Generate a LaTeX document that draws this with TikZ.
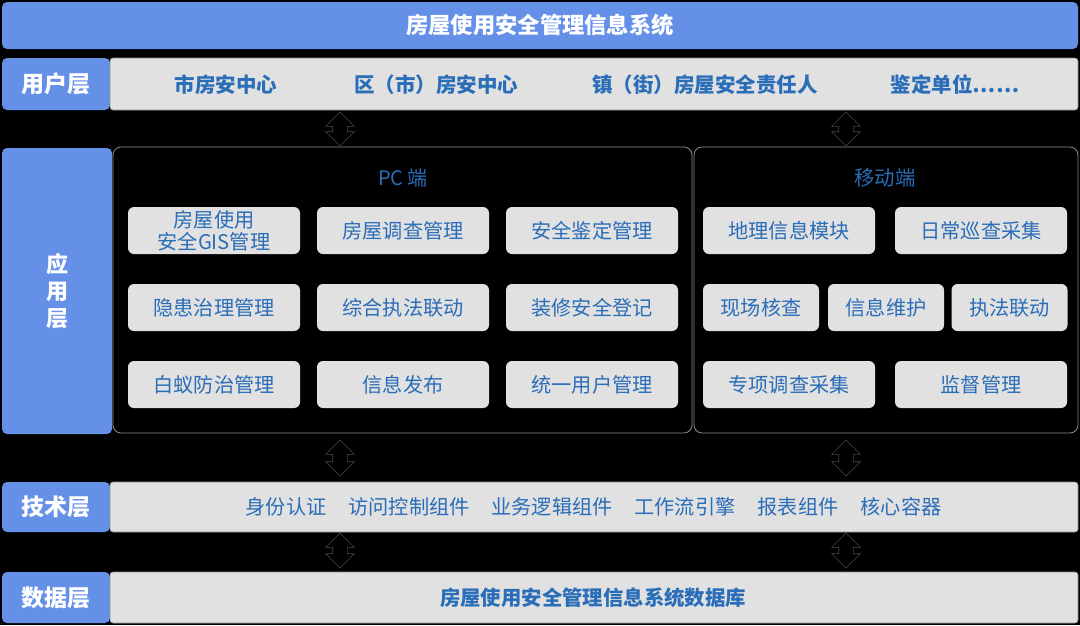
\documentclass[tikz,border=0pt]{standalone}
\usepackage{fontspec}
\setmainfont{Noto Sans CJK SC}
\usetikzlibrary{shapes.arrows}
\definecolor{layerblue}{HTML}{6590E8}
\definecolor{barfill}{HTML}{E1E1E1}
\definecolor{txtblue}{HTML}{2A6DB8}
\definecolor{edgegray}{HTML}{8C8C8C}
\begin{document}
\begin{tikzpicture}[x=1pt,y=-1pt,
    layer/.style={fill=layerblue,rounded corners=5pt,text=white,font=\fontsize{23}{28}\selectfont\bfseries,inner sep=0pt},
    bar/.style={fill=barfill,draw=edgegray,line width=0.6pt,rounded corners=3pt,inner sep=0pt,minimum width=968pt},
    item/.style={text=txtblue,font=\fontsize{20.5}{24}\selectfont\bfseries},
    tech/.style={text=txtblue,font=\fontsize{20.2}{24}\selectfont},
    panel/.style={draw=edgegray,line width=0.8pt,rounded corners=8pt,inner sep=0pt,minimum height=286pt},
    btn/.style={fill=barfill,rounded corners=6pt,text=txtblue,font=\fontsize{20.2}{22}\selectfont,align=center,inner sep=0pt,minimum height=47pt},
    updown/.style={double arrow,rotate=90,draw=black!72,fill=black,line width=0.6pt,inner xsep=0pt,inner ysep=7pt,minimum width=28pt,double arrow head extend=7pt}]
    \fill[black] (0,0) rectangle (1080,625);
    \node[layer,minimum width=1076pt,minimum height=47pt,font=\fontsize{22.3}{26}\selectfont\bfseries] (title) at (540,25.5) {房屋使用安全管理信息系统};
    \node[layer,minimum width=108pt,minimum height=52pt] (userlbl) at (56,84) {用户层};
    \node[bar,minimum height=52pt] (userbar) at (594,84) {};
    \node[item] (u1) at (226,85) {市房安中心};
    \node[item] (u2) at (436,85) {区（市）房安中心};
    \node[item] (u3) at (705,85) {镇（街）房屋安全责任人};
    \node[item] (u4) at (955,85) {鉴定单位……};
    \node[layer,minimum width=110pt,minimum height=286pt,align=center,font=\fontsize{22}{27}\selectfont\bfseries] (applbl) at (57,291) {应\\用\\层};
    \node[panel,minimum width=579pt] (pc) at (402.5,290) {};
    \node[panel,minimum width=384pt] (mobile) at (886,290) {};
    \node[text=txtblue,font=\fontsize{20}{22}\selectfont] (pctitle) at (403,178) {PC 端};
    \node[text=txtblue,font=\fontsize{20.4}{22}\selectfont] (mobtitle) at (885,178) {移动端};
    \foreach \name/\x/\y/\txt in {pc1/214/230.5/{房屋使用\\安全GIS管理},pc2/403/230.5/房屋调查管理,pc3/592/230.5/安全鉴定管理,
        pc4/214/307.5/隐患治理管理,pc5/403/307.5/综合执法联动,pc6/592/307.5/装修安全登记,
        pc7/214/384.5/白蚁防治管理,pc8/403/384.5/信息发布,pc9/592/384.5/统一用户管理}
        \node[btn,minimum width=172pt] (\name) at (\x,\y) {\txt};
    \foreach \name/\x/\y/\w/\txt in {m1/789/230.5/172/地理信息模块,m2/981/230.5/172/日常巡查采集,
        m3/761/307.5/116/现场核查,m4/886/307.5/116/信息维护,m5/1009.5/307.5/116/执法联动,
        m6/789/384.5/172/专项调查采集,m7/981/384.5/172/监督管理}
        \node[btn,minimum width=\w pt] (\name) at (\x,\y) {\txt};
    \node[layer,minimum width=108pt,minimum height=50pt] (techlbl) at (56,507) {技术层};
    \node[bar,minimum height=50pt] (techbar) at (594,507) {};
    \foreach \name/\x/\txt in {t1/286/身份认证,t2/409/访问控制组件,t3/552/业务逻辑组件,t4/685/工作流引擎,t5/798/报表组件,t6/901/核心容器}
        \node[tech] (\name) at (\x,507) {\txt};
    \node[layer,minimum width=108pt,minimum height=51pt] (datalbl) at (56,597.5) {数据层};
    \node[bar,minimum height=51pt] (databar) at (594,597.5) {};
    \node[item,font=\fontsize{20.4}{24}\selectfont\bfseries] (db) at (593,598) {房屋使用安全管理信息系统数据库};
    \foreach \x in {340,846}{
        \node[updown,minimum height=34pt] at (\x,129) {};
        \node[updown,minimum height=36pt] at (\x,458) {};
        \node[updown,minimum height=35pt] at (\x,550.5) {};
    }
\end{tikzpicture}
\end{document}
